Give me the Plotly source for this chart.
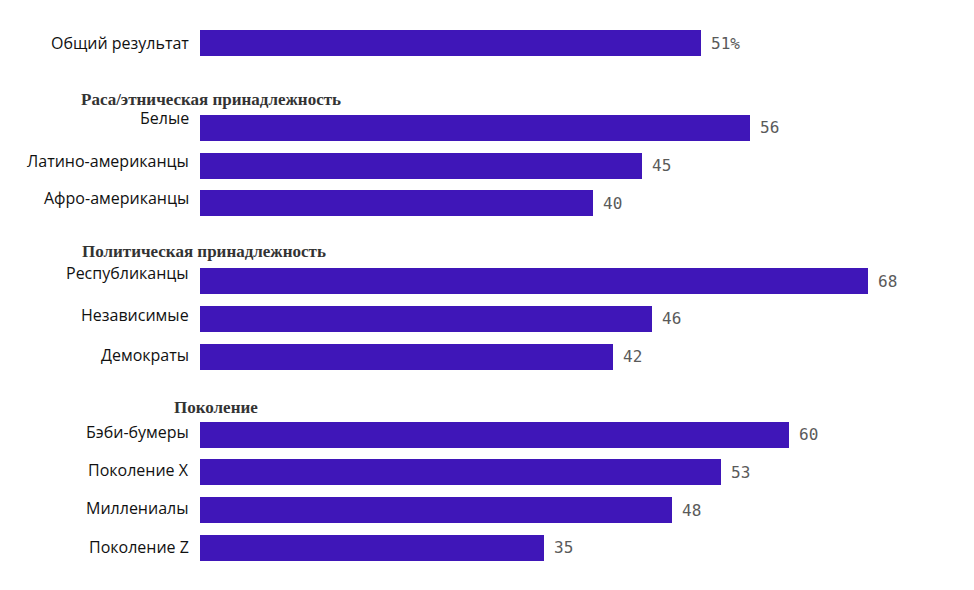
import plotly.graph_objects as go

# ---- data ----
groups = ["", "Раса/этническая принадлежность", "Политическая принадлежность", "Поколение"]
categories = [
    ["Общий результат"],
    ["Белые", "Латино-американцы", "Афро-американцы"],
    ["Республиканцы", "Независимые", "Демократы"],
    ["Бэби-бумеры", "Поколение X", "Миллениалы", "Поколение Z"],
]
values = [
    [51],
    [56, 45, 40],
    [68, 46, 42],
    [60, 53, 48, 35],
]

# ---- layout constants ----
BAR_COLOR = "#3f16b8"
group_gap = [0, 1.25, 1.07, 1.07]        # extra slot spacing before each group
header_offset = [0, 0.74, 0.78, 0.73]    # header distance above first row of group
header_x_px = [0, 79, 80, 172]           # header left edge in pixels
L_MARGIN = 200
PLOT_W = 700
PX_PER_SLOT = 37.7
FIRST_ROW_PX = 43

ys, labels, vals, texts = [], [], [], []
header_y = []
pos = 0.0
for gi, (cats, vs) in enumerate(zip(categories, values)):
    if gi > 0:
        pos += 1 + group_gap[gi]
    header_y.append(pos - header_offset[gi])
    for ci, (c, v) in enumerate(zip(cats, vs)):
        if ci > 0:
            pos += 1
        ys.append(pos)
        labels.append(c)
        vals.append(v)
        texts.append(f"{v}%" if gi == 0 else f"{v}")

fig = go.Figure()
fig.add_trace(go.Bar(
    x=vals, y=ys, orientation="h", width=0.69,
    marker=dict(color=BAR_COLOR, line=dict(width=0)),
    hoverinfo="skip", showlegend=False,
))

annotations = []
label_yshift = [0, 10, 5, 5, 8, 4, 2, 3, 2, 2, 1]
for i, (y, lab, v, t) in enumerate(zip(ys, labels, vals, texts)):
    annotations.append(dict(
        x=0, y=y, xref="x", yref="y", text=lab, showarrow=False,
        xanchor="right", yanchor="middle", xshift=-9, yshift=label_yshift[i],
        font=dict(family="Open Sans", size=16, color="#111111"),
    ))
    annotations.append(dict(
        x=v, y=y, xref="x", yref="y", text=t, showarrow=False,
        xanchor="left", yanchor="middle", xshift=8,
        font=dict(family="DejaVu Sans Mono", size=16, color="#5a5a5a"),
    ))
for gi, g in enumerate(groups):
    if not g:
        continue
    annotations.append(dict(
        x=(header_x_px[gi] - L_MARGIN) / PLOT_W, y=header_y[gi], xref="paper", yref="y",
        text=f"<b>{g}</b>", showarrow=False, xanchor="left", yanchor="middle",
        font=dict(family="Liberation Serif", size=17, color="#333333"),
    ))

y_top = -FIRST_ROW_PX / PX_PER_SLOT
y_bot = (590 - FIRST_ROW_PX) / PX_PER_SLOT
x_max = PLOT_W / ((868 - 200) / 68)

fig.update_layout(
    width=974, height=590,
    margin=dict(l=L_MARGIN, r=974 - L_MARGIN - PLOT_W, t=0, b=0),
    paper_bgcolor="white", plot_bgcolor="white",
    xaxis=dict(range=[0, x_max], visible=False, fixedrange=True),
    yaxis=dict(range=[y_bot, y_top], visible=False, fixedrange=True),
    annotations=annotations,
    bargap=0,
)

fig.write_html("out.html")
